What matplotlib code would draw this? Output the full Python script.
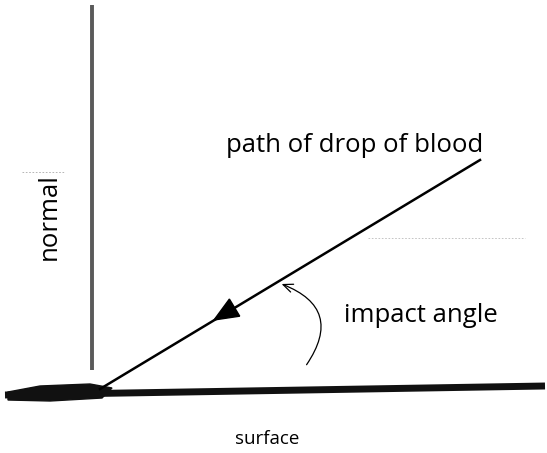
import matplotlib.pyplot as plt
from matplotlib.patches import FancyArrowPatch, Polygon

# Diagram geometry (in picture pixels, y down)
normal_x = [92, 92]
normal_y = [5, 370]
surface_x = [5, 545]
surface_y = [395, 386]
path_x = [100, 480]
path_y = [389, 160]
arrow_tip = (214, 320)
angle_start = (305, 367)
angle_end = (279, 283)
blob_x = [8, 40, 90, 112, 102, 50, 8]
blob_y = [392, 386, 384, 388, 398, 401, 400]

labels = {
    "path of drop of blood": (355, 145),
    "impact angle": (421, 316),
    "normal": (49, 217),
    "surface": (267, 439),
}

fig = plt.figure(figsize=(5.47, 4.53), dpi=100)
ax = fig.add_axes([0, 0, 1, 1])
ax.set_xlim(0, 547)
ax.set_ylim(453, 0)
ax.axis("off")

# Normal (grey, scanned look)
ax.plot(normal_x, normal_y, color="#5a5a5a", lw=2.8, solid_capstyle="butt")
# Surface
ax.plot(surface_x, surface_y, color="#111111", lw=5, solid_capstyle="butt")
ax.fill(blob_x, blob_y, color="#111111")

# path of the drop
ax.plot(path_x, path_y, color="black", lw=1.8)

# filled arrowhead along the path
dx = path_x[0] - path_x[1]
dy = path_y[0] - path_y[1]
norm = (dx ** 2 + dy ** 2) ** 0.5
ux, uy = dx / norm, dy / norm
px, py = -uy, ux
L, W = 24, 10
tip = arrow_tip
base = (tip[0] - ux * L, tip[1] - uy * L)
tri = Polygon([tip, (base[0] + px * W, base[1] + py * W), (base[0] - px * W, base[1] - py * W)],
              closed=True, color="black")
ax.add_patch(tri)

# impact angle arc
arc = FancyArrowPatch(angle_start, angle_end, connectionstyle="arc3,rad=0.65",
                      arrowstyle="->,head_length=7,head_width=3", color="black", lw=0.9)
ax.add_patch(arc)

# faint scan artifacts
ax.plot([22, 65], [172, 172], color="#aaaaaa", lw=0.6, ls=(0, (2, 2)))
ax.plot([368, 525], [238, 238], color="#bbbbbb", lw=0.6, ls=(0, (2, 2)))

ax.text(*labels["path of drop of blood"], "path of drop of blood", fontsize=18.5,
        family="Open Sans", ha="center", va="center")
ax.text(*labels["impact angle"], "impact angle", fontsize=18.5,
        family="Open Sans", ha="center", va="center")
ax.text(*labels["normal"], "normal", fontsize=18.5, rotation=90,
        family="Open Sans", ha="center", va="center")
ax.text(*labels["surface"], "surface", fontsize=13.5, family="Open Sans",
        ha="center", va="center")

fig.savefig("out.png", dpi=100)
